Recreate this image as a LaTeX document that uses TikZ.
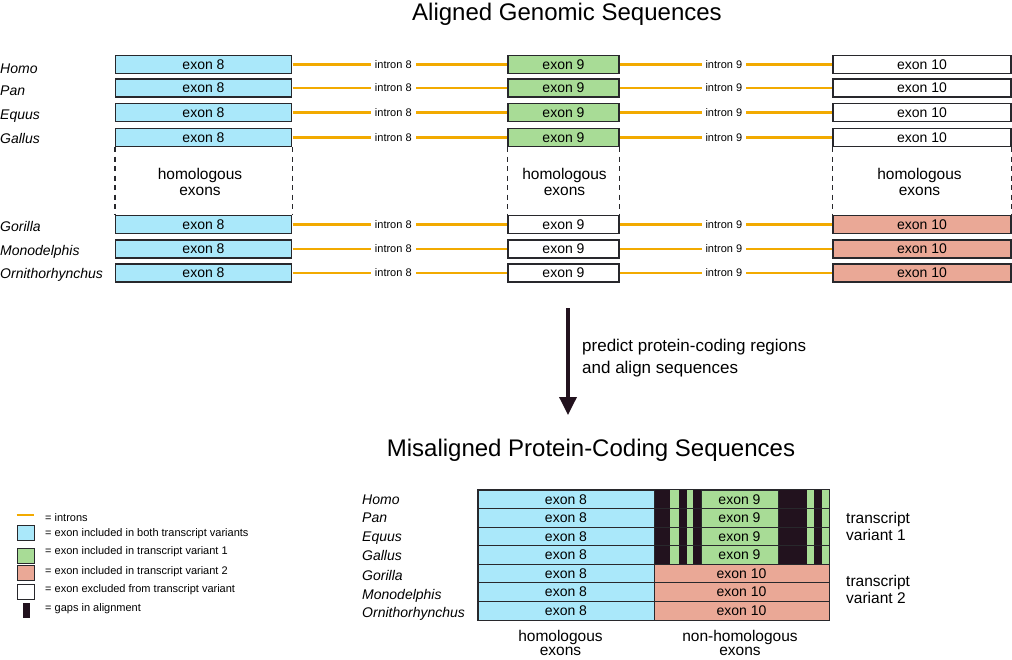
\documentclass[tikz,border=0pt]{standalone}
\usepackage{fontspec}
\setmainfont{Liberation Sans}
\usetikzlibrary{arrows.meta, positioning}
\definecolor{cyanex}{RGB}{170,232,250}
\definecolor{greenex}{RGB}{168,220,150}
\definecolor{salmonex}{RGB}{234,168,150}
\definecolor{intronc}{RGB}{242,170,0}
\definecolor{edgec}{RGB}{40,40,44}
\definecolor{gapc}{RGB}{34,18,30}

\begin{document}
\begin{tikzpicture}[x=1pt, y=-1pt,
        exon/.style={draw=edgec, line width=1.2pt, minimum height=18pt, inner sep=0pt, font=\fontsize{14}{16}\selectfont},
        exA/.style={exon, fill=cyanex, minimum width=176pt},
        exB/.style={exon, fill=white, minimum width=111pt},
        exC/.style={exon, fill=white, minimum width=178pt},
        cell/.style={draw=edgec, line width=1pt, minimum height=18.6pt, inner sep=0pt, font=\fontsize{14}{16}\selectfont},
        species/.style={anchor=base west, inner sep=0pt, font=\fontsize{14}{16}\selectfont\itshape},
        intron/.style={draw=intronc, line width=2.4pt, shorten <=0.6pt, shorten >=0.6pt},
        intlbl/.style={fill=white, inner xsep=4pt, inner ysep=1pt, font=\fontsize{11}{12}\selectfont},
        hd/.style={anchor=base, font=\fontsize{24}{26}\selectfont},
        note/.style={align=center, inner sep=0pt, font=\fontsize{15.5}{16.5}\selectfont},
        homdash/.style={draw=edgec, line width=1.2pt, dash pattern=on 5pt off 4.5pt},
        legbox/.style={draw=edgec, line width=1pt, minimum width=17pt, minimum height=15pt, inner sep=0pt},
        legtxt/.style={anchor=west, inner sep=0pt, font=\fontsize{11}{12}\selectfont}]
    \useasboundingbox (0,0) rectangle (1012,659);

    \node[hd] (toptitle) at (567,20.5) {Aligned Genomic Sequences};

    % Homo
    \node[species] at (0,73) {Homo};
    \node[exA] (hom8) at (203.5,64.5) {exon 8};
    \node[exB, fill=greenex] (hom9) at (563.5,64.5) {exon 9};
    \node[exC] (hom10) at (922,64.5) {exon 10};
    \draw[intron] (hom8) -- node[intlbl, pos=0.47] {intron 8} (hom9);
    \draw[intron] (hom9) -- node[intlbl, pos=0.49] {intron 9} (hom10);
    % Pan
    \node[species] at (0,95) {Pan};
    \node[exA] (pan8) at (203.5,88) {exon 8};
    \node[exB, fill=greenex] (pan9) at (563.5,88) {exon 9};
    \node[exC] (pan10) at (922,88) {exon 10};
    \draw[intron] (pan8) -- node[intlbl, pos=0.47] {intron 8} (pan9);
    \draw[intron] (pan9) -- node[intlbl, pos=0.49] {intron 9} (pan10);
    % Equus
    \node[species] at (0,119.5) {Equus};
    \node[exA] (equ8) at (203.5,112.5) {exon 8};
    \node[exB, fill=greenex] (equ9) at (563.5,112.5) {exon 9};
    \node[exC] (equ10) at (922,112.5) {exon 10};
    \draw[intron] (equ8) -- node[intlbl, pos=0.47] {intron 8} (equ9);
    \draw[intron] (equ9) -- node[intlbl, pos=0.49] {intron 9} (equ10);
    % Gallus
    \node[species] at (0,143.5) {Gallus};
    \node[exA] (gal8) at (203.5,137.5) {exon 8};
    \node[exB, fill=greenex] (gal9) at (563.5,137.5) {exon 9};
    \node[exC] (gal10) at (922,137.5) {exon 10};
    \draw[intron] (gal8) -- node[intlbl, pos=0.47] {intron 8} (gal9);
    \draw[intron] (gal9) -- node[intlbl, pos=0.49] {intron 9} (gal10);
    % Gorilla
    \node[species] at (0,231.5) {Gorilla};
    \node[exA] (gor8) at (203.5,224.5) {exon 8};
    \node[exB] (gor9) at (563.5,224.5) {exon 9};
    \node[exC, fill=salmonex] (gor10) at (922,224.5) {exon 10};
    \draw[intron] (gor8) -- node[intlbl, pos=0.47] {intron 8} (gor9);
    \draw[intron] (gor9) -- node[intlbl, pos=0.49] {intron 9} (gor10);
    % Monodelphis
    \node[species] at (0,255) {Monodelphis};
    \node[exA] (mon8) at (203.5,249) {exon 8};
    \node[exB] (mon9) at (563.5,249) {exon 9};
    \node[exC, fill=salmonex] (mon10) at (922,249) {exon 10};
    \draw[intron] (mon8) -- node[intlbl, pos=0.47] {intron 8} (mon9);
    \draw[intron] (mon9) -- node[intlbl, pos=0.49] {intron 9} (mon10);
    % Ornithorhynchus
    \node[species] at (0,278.5) {Ornithorhynchus};
    \node[exA] (orn8) at (203.5,273) {exon 8};
    \node[exB] (orn9) at (563.5,273) {exon 9};
    \node[exC, fill=salmonex] (orn10) at (922,273) {exon 10};
    \draw[intron] (orn8) -- node[intlbl, pos=0.47] {intron 8} (orn9);
    \draw[intron] (orn9) -- node[intlbl, pos=0.49] {intron 9} (orn10);

    % homologous columns
    \draw[homdash] (gal8.south west) -- (gor8.north west);
    \draw[homdash] (gal8.south east) -- (gor8.north east);
    \draw[homdash] (gal9.south west) -- (gor9.north west);
    \draw[homdash] (gal9.south east) -- (gor9.north east);
    \draw[homdash] (gal10.south west) -- (gor10.north west);
    \draw[homdash] (gal10.south east) -- (gor10.north east);
    \node[note] (hom8txt) at (200,182) {homologous\\exons};
    \node[note] (hom9txt) at (564.5,182) {homologous\\exons};
    \node[note] (hom10txt) at (919.5,182) {homologous\\exons};

    % prediction step
    \coordinate (arrtop) at (568,308);
    \coordinate (arrbot) at (568,415);
    \draw[-{Triangle[width=17pt,length=18pt]}, line width=3.5pt, draw=gapc] (arrtop) -- (arrbot);
    \node[anchor=west, align=left, inner sep=0pt, font=\fontsize{17}{22}\selectfont] (predlbl) at (582,358.5)
        {predict protein-coding regions\\and align sequences};

    \node[hd] (bottitle) at (591,456) {Misaligned Protein-Coding Sequences};

    % gaps and exon 9 fragments
    \fill[gapc] (654,490) rectangle (829,564);
    \fill[greenex] (670,490) rectangle (679,564);
    \fill[greenex] (687,490) rectangle (693,564);
    \fill[greenex] (807,490) rectangle (814,564);
    \fill[greenex] (822,490) rectangle (829,564);
    \draw[edgec, line width=1pt] (654,508.6) -- (829,508.6);
    \draw[edgec, line width=1pt] (654,527.1) -- (829,527.1);
    \draw[edgec, line width=1pt] (654,545.7) -- (829,545.7);

    % aligned rows
    \node[cell, fill=cyanex, minimum width=176pt] (bhom8) at (566,499.3) {exon 8};
    \node[cell, fill=greenex, minimum width=77pt] (bhom9) at (739.5,499.3) {exon 9};
    \node[cell, fill=cyanex, minimum width=176pt] (bpan8) at (566,517.9) {exon 8};
    \node[cell, fill=greenex, minimum width=77pt] (bpan9) at (739.5,517.9) {exon 9};
    \node[cell, fill=cyanex, minimum width=176pt] (bequ8) at (566,536.4) {exon 8};
    \node[cell, fill=greenex, minimum width=77pt] (bequ9) at (739.5,536.4) {exon 9};
    \node[cell, fill=cyanex, minimum width=176pt] (bgal8) at (566,555) {exon 8};
    \node[cell, fill=greenex, minimum width=77pt] (bgal9) at (739.5,555) {exon 9};
    \node[cell, fill=cyanex, minimum width=176pt] (bgor8) at (566,573.6) {exon 8};
    \node[cell, fill=salmonex, minimum width=175pt] (bgor10) at (741.5,573.6) {exon 10};
    \node[cell, fill=cyanex, minimum width=176pt] (bmon8) at (566,592.1) {exon 8};
    \node[cell, fill=salmonex, minimum width=175pt] (bmon10) at (741.5,592.1) {exon 10};
    \node[cell, fill=cyanex, minimum width=176pt] (born8) at (566,610.7) {exon 8};
    \node[cell, fill=salmonex, minimum width=175pt] (born10) at (741.5,610.7) {exon 10};
    \draw[edgec, line width=1.2pt] (bhom8.north west) rectangle (born10.south east);

    \node[species] at (362,504) {Homo};
    \node[species] at (362,522.7) {Pan};
    \node[species] at (362,541) {Equus};
    \node[species] at (362,560) {Gallus};
    \node[species] at (362,580) {Gorilla};
    \node[species] at (362,599) {Monodelphis};
    \node[species] at (362,617.3) {Ornithorhynchus};

    \node[note, anchor=west, align=left, font=\fontsize{15.5}{17}\selectfont] (tv1) at (846,526) {transcript\\variant 1};
    \node[note, anchor=west, align=left, font=\fontsize{15.5}{17}\selectfont] (tv2) at (846,589) {transcript\\variant 2};
    \node[note, font=\fontsize{15.5}{14}\selectfont] (bhomtxt) at (560.5,643) {homologous\\exons};
    \node[note, font=\fontsize{15.5}{14}\selectfont] (bnontxt) at (740,643) {non-homologous\\exons};

    % legend
    \draw[intron] (16,515) -- (35,515);
    \node[legbox, fill=cyanex] (lgboth) at (25.5,532.5) {};
    \node[legbox, fill=greenex] (lgv1) at (25.5,555.5) {};
    \node[legbox, fill=salmonex] (lgv2) at (25.5,573) {};
    \node[legbox, fill=white] (lgexc) at (25.5,592) {};
    \node[fill=gapc, minimum width=7pt, minimum height=15pt, inner sep=0pt] (lggap) at (26.5,610.5) {};
    \node[legtxt] at (45,517.5) {= introns};
    \node[legtxt] at (45,533.5) {= exon included in both transcript variants};
    \node[legtxt] at (45,552) {= exon included in transcript variant 1};
    \node[legtxt] at (45,571.5) {= exon included in transcript variant 2};
    \node[legtxt] at (45,590) {= exon excluded from transcript variant};
    \node[legtxt] at (45,608.5) {= gaps in alignment};
\end{tikzpicture}
\end{document}
